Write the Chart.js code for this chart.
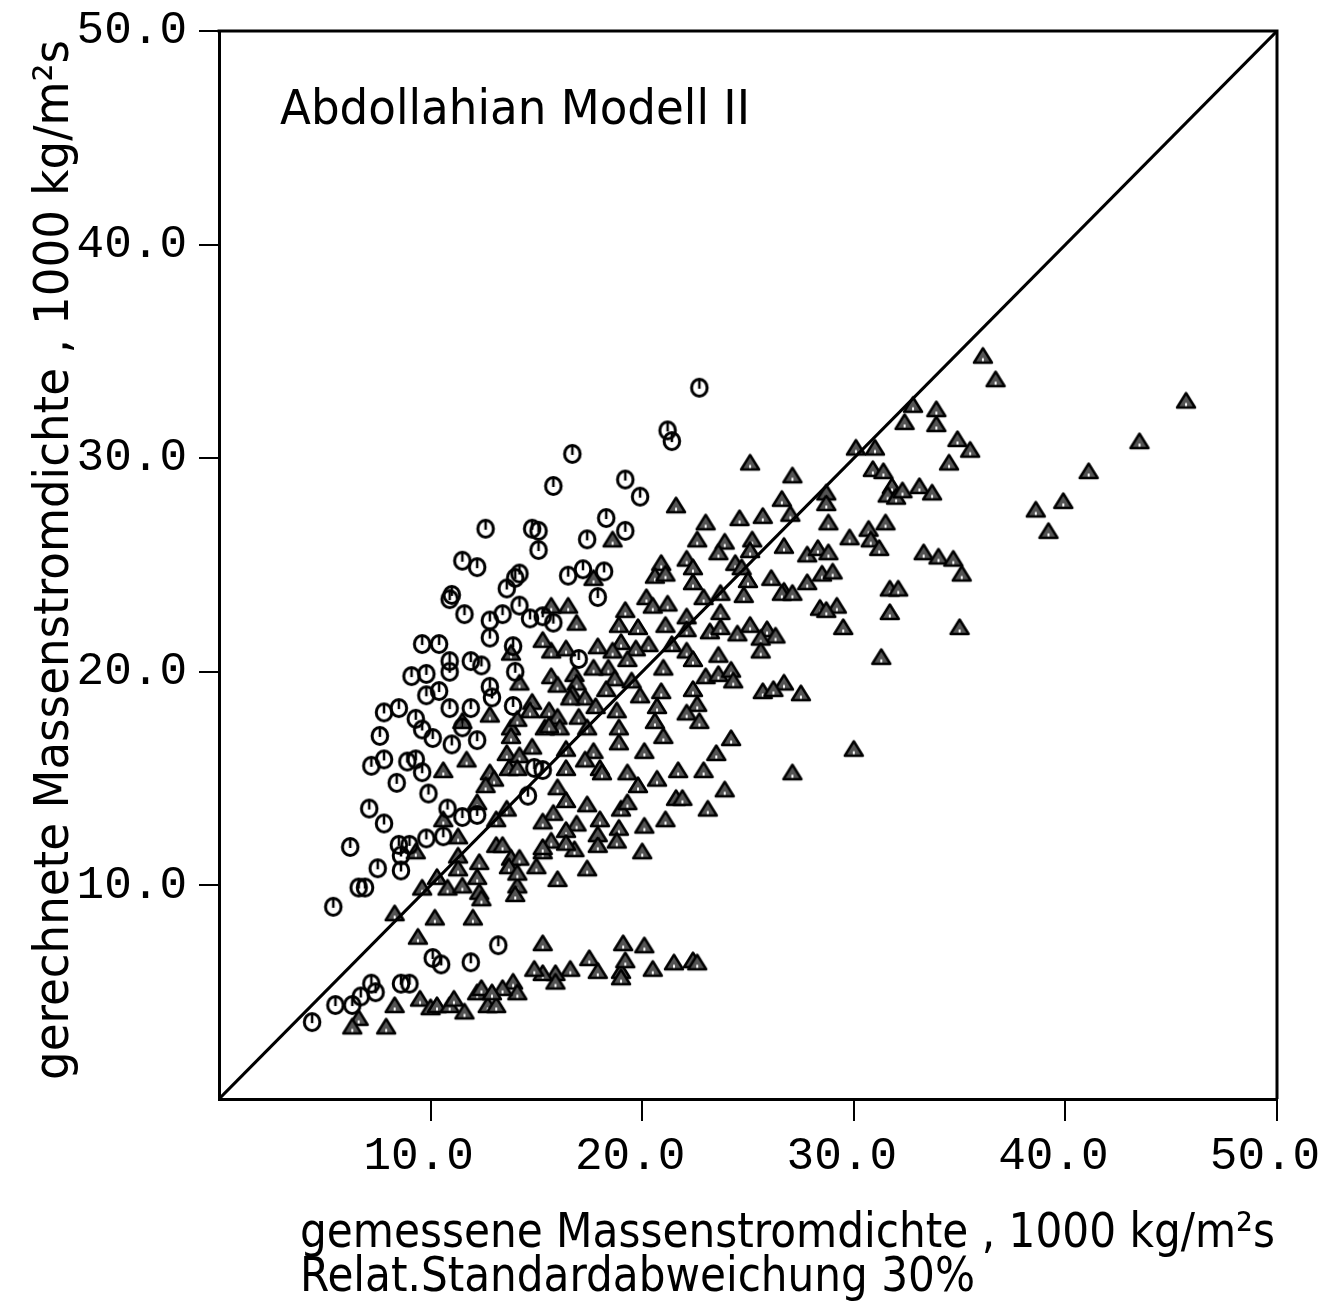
<!DOCTYPE html>
<html><head><meta charset="utf-8">
<script src="https://cdn.jsdelivr.net/npm/chart.js@4.4.1/dist/chart.umd.min.js"></script>
<style>html,body{margin:0;padding:0;background:#fff;}#wrap{width:1320px;height:1315px;}</style>
</head><body><div id="wrap"><canvas id="c" width="1320" height="1315"></canvas></div>
<script>
// ---- data ----
const xTickValues = [10, 20, 30, 40, 50];
const yTickValues = [10, 20, 30, 40, 50];
const refLineX = [0, 50];
const refLineY = [0, 50];
const chartLabel = "Abdollahian Modell II";
const xTitleLines = ["gemessene Massenstromdichte , 1000 kg/m²s", "Relat.Standardabweichung 30%"];
const yTitle = "gerechnete Massenstromdichte , 1000 kg/m²s";

const circleX = [22.7,21.2,21.4,16.7,19.2,19.9,15.8,12.6,14.8,15.1,15.1,18.3,19.2,17.4,11.5,12.2,16.5,17.2,18.2,14.2,14.0,13.6,11.0,10.9,17.9,11.6,12.8,13.4,14.2,14.7,15.3,15.8,12.8,13.9,9.6,10.4,10.9,10.9,11.9,12.4,9.1,9.8,14.0,12.8,12.9,9.8,10.4,7.8,8.5,10.9,11.9,13.9,9.3,9.6,10.1,11.5,12.2,11.0,7.6,7.2,7.8,8.9,9.3,9.6,8.4,9.9,10.8,11.5,12.2,14.9,15.3,14.6,7.1,7.8,9.8,10.6,8.5,9.0,8.6,8.6,6.2,7.5,6.6,6.9,5.4,13.2,10.1,10.5,11.9,7.2,7.4,8.6,9.0,5.5,6.3,6.7,4.4,17.0];
const circleY = [33.3,31.3,30.8,30.2,29.0,28.2,28.7,26.7,26.7,26.6,25.7,27.2,26.6,26.2,25.2,24.9,24.5,24.8,24.7,24.6,24.4,23.9,23.6,23.4,23.5,22.7,22.4,22.7,23.1,22.5,22.6,22.3,21.6,21.2,21.3,21.3,20.5,20.0,20.5,20.3,19.8,19.9,20.0,19.3,18.8,18.9,19.1,18.1,18.3,18.3,18.3,18.4,17.8,17.3,16.9,17.4,16.8,16.6,17.0,15.6,15.9,15.8,15.9,15.3,14.8,14.3,13.6,13.2,13.3,15.5,15.4,14.2,13.6,12.9,12.2,12.3,11.9,11.9,11.4,10.7,11.8,10.8,9.9,9.9,9.0,7.2,6.6,6.3,6.4,5.4,5.0,5.4,5.4,4.4,4.4,4.8,3.6,20.6];

const triX = [45.7,43.5,41.1,39.9,38.6,39.2,36.1,36.7,32.8,32.4,33.9,33.9,34.9,35.5,34.5,30.1,31.0,30.9,31.4,31.8,31.6,32.0,32.3,33.1,33.7,28.7,28.7,26.6,25.1,27.1,28.8,31.5,29.8,30.7,30.8,31.2,27.8,28.3,28.8,33.3,34.0,34.7,35.1,31.7,32.1,31.7,35.0,31.3,27.8,28.5,29.0,28.4,29.2,28.7,29.5,26.7,26.6,27.1,26.1,26.7,27.5,30.0,27.1,21.6,23.0,24.6,25.7,27.0,18.6,22.6,23.9,23.6,25.2,25.1,26.7,20.9,20.6,21.1,22.1,22.4,22.4,24.4,24.7,25.0,23.7,23.7,24.8,22.9,20.2,20.5,21.2,19.2,16.5,15.7,16.9,18.9,19.8,21.1,22.1,22.1,23.2,23.7,24.5,25.1,25.9,26.3,25.6,25.6,20.3,19.7,19.3,19.0,18.6,17.9,15.7,16.4,15.3,21.4,22.1,22.4,23.6,21.0,18.4,17.7,18.7,19.5,23.0,23.6,24.2,24.3,22.4,15.7,16.8,16.9,19.9,18.3,20.9,20.7,20.6,22.6,22.1,22.7,16.7,17.3,17.8,15.6,16.0,16.1,17.0,17.4,18.8,18.9,25.7,26.2,21.0,24.2,18.9,20.1,23.5,17.7,17.3,18.0,18.1,16.4,16.4,19.3,20.7,21.7,22.9,19.8,21.6,21.9,23.9,23.1,16.0,16.4,17.4,19.0,19.3,15.8,15.3,16.9,16.4,15.7,18.0,17.9,17.9,18.9,20.1,21.1,18.8,20.0,15.3,16.8,17.4,16.0,15.3,19.1,20.1,17.5,17.9,19.0,19.2,19.0,20.5,21.5,22.4,22.6,16.6,15.9,15.9,15.3,14.9,13.9,14.1,13.4,12.2,12.4,12.7,13.1,12.9,9.5,10.0,10.3,10.9,11.1,11.6,8.3,6.6,6.3,7.9,9.4,10.2,12.0,8.3,9.6,10.3,10.8,11.5,12.3,12.4,14.1,14.0,11.3,11.3,11.3,12.3,12.2,9.3,13.1,13.4,13.8,14.2,13.7,14.1,15.0,15.3,13.6,13.1,12.2,10.6,11.7,10.6,12.8,13.0,12.6,13.6,14.2,13.7,14.1,14.8,13.8,14.2,14.8,14.7,12.8,13.8,14.1,15.4,11.5,13.8,16.0,16.6,15.6,17.7,16.4];
const triY = [32.7,30.8,29.4,28.0,27.6,26.6,34.8,33.7,32.5,31.7,32.3,31.6,30.9,30.4,29.8,30.5,30.5,29.5,29.4,28.7,28.3,28.2,28.5,28.7,28.4,28.4,27.9,28.1,29.8,29.2,27.0,27.0,26.3,26.7,26.2,25.8,25.5,25.8,25.6,25.6,25.4,25.3,24.6,23.9,23.9,22.8,22.1,20.7,24.2,24.6,24.7,23.0,23.1,22.9,22.1,23.8,23.7,23.7,24.4,19.5,19.0,16.4,15.3,27.8,27.0,27.2,27.3,27.4,26.2,26.2,26.1,25.6,26.2,25.7,25.9,25.1,24.5,24.6,25.3,24.9,24.2,25.1,24.9,24.3,23.7,22.8,23.6,23.5,23.5,23.1,23.2,22.9,23.1,23.1,22.3,22.2,22.1,22.2,22.6,22.0,21.9,22.1,21.8,22.2,22.0,21.7,21.6,21.0,21.3,21.1,20.6,21.4,21.0,21.2,21.0,21.1,21.5,21.3,21.0,20.6,20.8,20.2,20.2,20.2,19.7,19.6,19.8,19.9,20.1,19.6,19.2,19.8,19.9,19.5,18.9,19.2,19.1,18.4,17.7,18.5,18.1,17.7,19.0,18.8,18.4,18.2,17.9,17.4,17.9,17.4,18.2,17.4,19.1,19.2,17.0,16.9,16.7,16.3,16.2,16.3,15.9,15.5,15.3,16.4,15.5,15.3,15.0,15.4,15.4,14.7,14.1,14.1,14.5,13.6,14.6,14.0,13.8,13.6,13.9,13.4,13.0,12.9,12.6,12.1,13.1,12.4,11.9,12.7,12.8,13.1,12.1,11.6,11.6,11.7,10.8,10.3,7.3,7.3,7.2,6.6,6.0,6.0,6.5,5.7,6.1,6.4,6.5,6.4,6.1,5.9,5.5,5.9,6.1,5.5,5.0,5.2,5.0,5.2,4.4,4.4,5.0,4.7,4.3,4.4,4.4,4.7,4.1,4.4,3.8,3.4,3.4,7.6,8.5,8.5,8.7,9.9,10.4,9.9,10.0,9.7,9.4,10.0,9.6,12.3,11.4,10.8,11.1,10.4,11.6,11.9,11.9,11.3,11.3,10.9,10.6,10.9,11.8,13.6,13.1,13.9,13.1,15.9,15.4,15.3,15.0,14.7,16.2,16.1,15.5,15.5,16.5,20.9,19.5,18.6,18.2,18.0,17.4,17.8,17.4,17.7,17.0,19.4,18.8,17.5,24.4,12.0];

// ---- marker glyphs ----
function makeCircle() {
  const c = document.createElement('canvas'); c.width = 24; c.height = 24;
  const g = c.getContext('2d');
  g.strokeStyle = '#000'; g.lineWidth = 3;
  g.beginPath(); g.ellipse(12, 12, 7.8, 8.6, 0, 0, Math.PI * 2); g.stroke();
  g.lineWidth = 2.5; g.beginPath(); g.moveTo(12, 3.5); g.lineTo(12, 13); g.stroke();
  return c;
}
function makeTri() {
  const c = document.createElement('canvas'); c.width = 24; c.height = 20;
  const g = c.getContext('2d');
  g.beginPath(); g.moveTo(12, 2.5); g.lineTo(21, 17); g.lineTo(3, 17); g.closePath();
  g.fillStyle = '#555'; g.fill();
  g.strokeStyle = '#000'; g.lineWidth = 2.5; g.lineJoin = 'round'; g.stroke();
  g.fillStyle = '#fff'; g.fillRect(11, 12.5, 2, 3);
  return c;
}
const circleImg = makeCircle();
const triImg = makeTri();

const tickFont = {family: "'Liberation Mono','DejaVu Sans Mono',monospace", size: 46, weight: 'normal'};
const textFont = "'DejaVu Sans','Liberation Sans',sans-serif";

const framePlugin = {
  id: 'frame',
  afterDatasetsDraw(chart) {
    const {ctx, chartArea: a} = chart;
    ctx.save();
    ctx.strokeStyle = '#000'; ctx.lineWidth = 3;
    ctx.beginPath();
    ctx.moveTo(a.left - 1.5, a.top); ctx.lineTo(a.right, a.top); ctx.lineTo(a.right, a.bottom);
    ctx.stroke();
    ctx.restore();
  },
  afterDraw(chart) {
    const ctx = chart.ctx;
    ctx.save();
    ctx.fillStyle = '#000';
    ctx.textBaseline = 'alphabetic';
    ctx.textAlign = 'left';
    ctx.font = '48px ' + textFont;
    ctx.fillText(chartLabel, 280, 124, 470);
    ctx.fillText(xTitleLines[0], 300, 1247, 975);
    ctx.fillText(xTitleLines[1], 300, 1291, 675);
    ctx.translate(68, 560);
    ctx.rotate(-Math.PI / 2);
    ctx.textAlign = 'center';
    ctx.fillText(yTitle, 0, 0, 1040);
    ctx.restore();
  }
};

new Chart(document.getElementById('c'), {
  data: {
    datasets: [
      {type: 'line', data: refLineX.map((x, i) => ({x, y: refLineY[i]})), borderColor: '#000', borderWidth: 3, pointRadius: 0, fill: false, order: 0},
      {type: 'scatter', data: circleX.map((x, i) => ({x, y: circleY[i]})), pointStyle: circleImg, pointRadius: 9, order: 1},
      {type: 'scatter', data: triX.map((x, i) => ({x, y: triY[i]})), pointStyle: triImg, pointRadius: 9, order: 2}
    ]
  },
  options: {
    responsive: false,
    animation: false,
    devicePixelRatio: 1,
    layout: {padding: {top: 31, right: 43, left: 0, bottom: 0}},
    plugins: {legend: {display: false}, tooltip: {enabled: false}},
    scales: {
      x: {
        type: 'linear', position: 'bottom', min: 0, max: 50,
        afterBuildTicks: s => { s.ticks = xTickValues.map(v => ({value: v})); },
        afterFit: s => { s.height = 216; s.paddingLeft = 0; s.paddingRight = 0; },
        grid: {drawOnChartArea: false, drawTicks: true, tickLength: 22, color: '#000', lineWidth: 2},
        border: {display: true, color: '#000', width: 3},
        ticks: {font: tickFont, color: '#000', padding: 8, labelOffset: -12, maxRotation: 0, autoSkip: false, callback: v => Number(v).toFixed(1)}
      },
      y: {
        type: 'linear', position: 'left', min: 0, max: 50,
        afterBuildTicks: s => { s.ticks = yTickValues.map(v => ({value: v})); },
        afterFit: s => { s.width = 219; s.paddingTop = 0; s.paddingBottom = 0; },
        grid: {drawOnChartArea: false, drawTicks: true, tickLength: 20, color: '#000', lineWidth: 2},
        border: {display: true, color: '#000', width: 3},
        ticks: {font: tickFont, color: '#000', padding: 12, autoSkip: false, callback: v => Number(v).toFixed(1)}
      }
    }
  },
  plugins: [framePlugin]
});
</script>
</body></html>
